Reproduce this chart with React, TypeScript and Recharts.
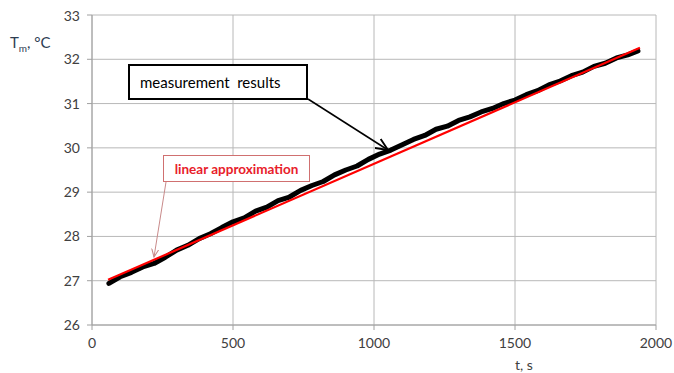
import React from "react";
import { LineChart, Line, XAxis, YAxis, CartesianGrid } from "recharts";

const measTime = [60, 100, 140, 180, 220, 260, 300, 340, 380, 420, 460, 500, 540, 580, 620, 660, 700, 740, 780, 820, 860, 900, 940, 980, 1020, 1060, 1100, 1140, 1180, 1220, 1260, 1300, 1340, 1380, 1420, 1460, 1500, 1540, 1580, 1620, 1660, 1700, 1740, 1780, 1820, 1860, 1900, 1936];
const measTemp = [26.94, 27.09, 27.19, 27.31, 27.39, 27.53, 27.69, 27.8, 27.95, 28.06, 28.2, 28.33, 28.42, 28.57, 28.66, 28.81, 28.89, 29.04, 29.15, 29.24, 29.39, 29.5, 29.59, 29.74, 29.86, 29.95, 30.07, 30.19, 30.28, 30.42, 30.49, 30.62, 30.7, 30.81, 30.89, 31.0, 31.08, 31.2, 31.29, 31.42, 31.51, 31.63, 31.71, 31.84, 31.91, 32.03, 32.1, 32.19];
const fitTime = [57, 1943];
const fitTemp = [27.02, 32.26];
const xTicks = [0, 500, 1000, 1500, 2000];
const yTicks = [26, 27, 28, 29, 30, 31, 32, 33];

const measData = measTime.map((t, i) => ({ t, T: measTemp[i] }));
const fitData = fitTime.map((t, i) => ({ t, T: fitTemp[i] }));

if (typeof document !== "undefined") {
  document.body.style.margin = "0";
  document.body.style.overflow = "hidden";
}

const FONT = "Lato, 'Open Sans', sans-serif";
const W = 666;
const H = 365;

export default function App() {
  return (
    <div style={{ padding: "8px 0 0 8px", width: 674, height: 373, boxSizing: "border-box" }}>
      <div style={{ position: "relative", width: W, height: H, fontFamily: FONT }}>
        <LineChart width={W} height={H} margin={{ top: 7, right: 18, bottom: 0, left: 0 }}>
          <CartesianGrid stroke="#b8b8b8" strokeWidth={1} />
          <XAxis
            type="number"
            dataKey="t"
            domain={[0, 2000]}
            ticks={xTicks}
            height={48}
            tickSize={5}
            tickMargin={8}
            stroke="#a0a0a0"
            tick={{ fill: "#404040", fontSize: 14, fontFamily: FONT }}
            allowDuplicatedCategory={false}
          />
          <YAxis
            type="number"
            domain={[26, 33]}
            ticks={yTicks}
            width={84}
            tickSize={5}
            tickMargin={7}
            stroke="#a0a0a0"
            tick={{ fill: "#404040", fontSize: 14, fontFamily: FONT }}
          />
          <Line
            data={measData}
            dataKey="T"
            type="linear"
            stroke="#000000"
            strokeWidth={5}
            strokeLinejoin="round"
            strokeLinecap="round"
            dot={false}
            isAnimationActive={false}
          />
          <Line
            data={fitData}
            dataKey="T"
            type="linear"
            stroke="#ff0000"
            strokeWidth={2.2}
            dot={false}
            isAnimationActive={false}
          />
        </LineChart>
        <svg
          width={W}
          height={H}
          style={{ position: "absolute", left: 0, top: 0, pointerEvents: "none" }}
        >
          <defs>
            <marker id="arrBlack" viewBox="0 0 10 10" refX="9" refY="5" markerWidth="9" markerHeight="9" orient="auto">
              <polyline points="0,1 9,5 0,9" fill="none" stroke="#000" strokeWidth="1.4" />
            </marker>
            <marker id="arrRed" viewBox="0 0 10 10" refX="9" refY="5" markerWidth="9" markerHeight="9" orient="auto">
              <polyline points="0,1 9,5 0,9" fill="none" stroke="#c88a8a" strokeWidth="1.2" />
            </marker>
          </defs>
          <text x={2} y={40} fontSize={15} fill="#2e3d52" fontFamily={FONT}>
            T<tspan fontSize={10} dy={4}>m</tspan>
            <tspan dy={-4}>, °C</tspan>
          </text>
          <text x={507} y={362} fontSize={14} fill="#404040" fontFamily={FONT}>
            t, s
          </text>
          <rect x={121} y={57} width={178} height={34} fill="#ffffff" stroke="#000" strokeWidth={2} />
          <text x={132} y={74} fontSize={15} fill="#000" fontFamily={FONT} dominantBaseline="central" xmlSpace="preserve">
            measurement  results
          </text>
          <line x1={300} y1={91} x2={380} y2={142} stroke="#000" strokeWidth={1.5} markerEnd="url(#arrBlack)" />
          <rect x={155.5} y={147.5} width={146} height={26} fill="#ffffff" stroke="#d07070" strokeWidth={1} />
          <text x={228.5} y={160.5} fontSize={13.5} fontWeight="bold" fill="#e8202a" fontFamily={FONT} textAnchor="middle" dominantBaseline="central">
            linear approximation
          </text>
          <line x1={158} y1={174} x2={146} y2={249} stroke="#c88a8a" strokeWidth={1} markerEnd="url(#arrRed)" />
        </svg>
      </div>
    </div>
  );
}
